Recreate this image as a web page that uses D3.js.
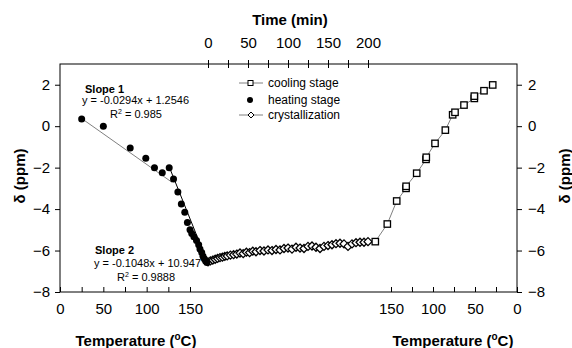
<!DOCTYPE html>
<meta charset="utf-8">
<html>
<head>
<script src="https://d3js.org/d3.v7.min.js"></script>
<style>
body { margin: 0; background: #fff; }
svg { font-family: "Liberation Sans", Arial, sans-serif; }
.tick text { font-size: 15px; fill: #000; }
.tick line { stroke: #000; }
.note { font-size: 11px; }
.legend { font-size: 12px; }
.title { font-size: 15px; font-weight: bold; }
</style>
</head>
<body>
<div id="chart"></div>
<script>

// heating stage: [temperature (C), delta (ppm)]
var heating = [[25,0.35],[50,0.0],[81,-1.05],[99,-1.55],[109,-2.0],[118,-2.25],[126,-2.0],
  [131,-2.55],[136,-3.18],[140,-3.75],[144,-4.15],[147,-4.65],[150,-5.0],[152,-5.18],
  [154.5,-5.33],[157.5,-5.52],[160,-5.72],[161.5,-5.92],[163.5,-6.1],[165,-6.28],
  [166.5,-6.4],[168,-6.5],[169.5,-6.58]];

// crystallization: [time (min), delta (ppm)]
var crystallization = [[0,-6.55],[3,-6.5],[6,-6.46],[9,-6.42],[12,-6.38],[15,-6.34],[18,-6.32],
  [21,-6.28],[24,-6.26],[28,-6.22],[32,-6.2],[36,-6.17],[40,-6.12],[44,-6.15],[48,-6.08],
  [52,-6.1],[56,-6.03],[60,-6.06],[65,-6.0],[70,-6.02],[75,-5.97],[80,-6.0],[85,-5.95],
  [90,-5.97],[95,-5.9],[100,-5.88],[105,-5.93],[110,-5.84],[115,-5.88],[120,-5.9],
  [125,-5.8],[130,-5.78],[135,-5.84],[140,-5.9],[145,-5.8],[150,-5.76],[155,-5.72],
  [160,-5.67],[165,-5.65],[170,-5.68],[175,-5.8],[180,-5.68],[185,-5.62],[190,-5.6],
  [195,-5.6],[200,-5.57]];

// cooling stage: [temperature (C), delta (ppm)]
var cooling = [[168.7,-5.57],[154.4,-4.72],[143.2,-3.61],[132.1,-3.0],[132,-2.9],[119.4,-2.27],
  [108.3,-1.6],[108,-1.5],[97.6,-0.83],[85.3,-0.19],[76.6,0.55],[73.8,0.67],[63.1,1.02],
  [50.8,1.34],[50.8,1.45],[39.3,1.71],[28.9,1.99]];

// trend lines (endpoints)
var slope1Line = [[25,0.37],[129,-2.7]];
var slope2Line = [[126,-1.96],[170,-6.55]];

var yTicks = [-8,-6,-4,-2,0,2];
var heatMinor = [0,25,50,75,100,125,150];
var heatLabels = [0,50,100,150];
var timeMinor = [0,25,50,75,100,125,150,175,200];
var timeLabels = [0,50,100,150,200];
var coolMinor = [150,125,100,75,50,25,0];
var coolLabels = [150,100,50,0];

var W = 572, H = 348;
var plotL = 60, plotR = 517, plotT = 64, plotB = 292;

var svg = d3.select("#chart").append("svg")
  .attr("width", W).attr("height", H);

var y = d3.scaleLinear().domain([-8, 3]).range([plotB, plotT]);
var xHeat = d3.scaleLinear().domain([0, 150]).range([plotL, 190]);
var xTime = d3.scaleLinear().domain([0, 200]).range([208, 368]);
var xCool = d3.scaleLinear().domain([150, 0]).range([391, plotR]);

// frame
svg.append("rect")
  .attr("x", plotL).attr("y", plotT)
  .attr("width", plotR - plotL).attr("height", plotB - plotT)
  .attr("fill", "none").attr("stroke", "#000");

function labelIf(list) {
  return function(d) { return list.indexOf(d) >= 0 ? d : ""; };
}

// y axes
svg.append("g").attr("transform", "translate(" + plotL + ",0)")
  .call(d3.axisLeft(y).tickValues(yTicks).tickSize(5).tickPadding(5))
  .call(g => g.select(".domain").remove());
svg.append("g").attr("transform", "translate(" + plotR + ",0)")
  .call(d3.axisRight(y).tickValues(yTicks).tickSize(5).tickPadding(6))
  .call(g => g.select(".domain").remove());

// bottom axes (ticks inside)
svg.append("g").attr("transform", "translate(0," + plotB + ")")
  .call(d3.axisBottom(xHeat).tickValues(heatMinor).tickFormat(labelIf(heatLabels))
    .tickSizeInner(-5).tickSizeOuter(0).tickPadding(11))
  .call(g => g.select(".domain").remove());
svg.append("g").attr("transform", "translate(0," + plotB + ")")
  .call(d3.axisBottom(xCool).tickValues(coolMinor).tickFormat(labelIf(coolLabels))
    .tickSizeInner(-5).tickSizeOuter(0).tickPadding(11))
  .call(g => g.select(".domain").remove());

// top time axis (ticks cross the frame)
svg.append("g").attr("transform", "translate(0," + plotT + ")")
  .call(d3.axisTop(xTime).tickValues(timeMinor).tickFormat(labelIf(timeLabels))
    .tickSizeInner(4).tickSizeOuter(0).tickPadding(12))
  .call(g => g.select(".domain").remove());
svg.append("g").attr("transform", "translate(0," + plotT + ")")
  .call(d3.axisTop(xTime).tickValues(timeMinor).tickFormat("")
    .tickSizeInner(-4).tickSizeOuter(0))
  .call(g => g.select(".domain").remove());

// axis titles
svg.append("text").attr("class", "title").attr("x", 290).attr("y", 25)
  .attr("text-anchor", "middle").text("Time (min)");

function tempTitle(cx) {
  var t = svg.append("text").attr("class", "title").attr("x", cx).attr("y", 346)
    .attr("text-anchor", "middle");
  t.append("tspan").text("Temperature (");
  t.append("tspan").attr("dy", -6).style("font-size", "10px").text("o");
  t.append("tspan").attr("dy", 6).text("C)");
}
tempTitle(136);
tempTitle(453);

svg.append("text").attr("class", "title")
  .attr("transform", "translate(25,176) rotate(-90)")
  .attr("text-anchor", "middle").text("δ (ppm)");
svg.append("text").attr("class", "title")
  .attr("transform", "translate(570,176) rotate(-90)")
  .attr("text-anchor", "middle").text("δ (ppm)");

// trend lines
var lineHeat = d3.line().x(d => xHeat(d[0])).y(d => y(d[1]));
svg.append("path").datum(slope1Line).attr("d", lineHeat)
  .attr("fill", "none").attr("stroke", "#808080").attr("stroke-width", 1);
svg.append("path").datum(slope2Line).attr("d", lineHeat)
  .attr("fill", "none").attr("stroke", "#000").attr("stroke-width", 1);

// crystallization line + diamonds
svg.append("path").datum(crystallization)
  .attr("d", d3.line().x(d => xTime(d[0])).y(d => y(d[1])))
  .attr("fill", "none").attr("stroke", "#808080");
svg.append("g").selectAll("path")
  .data(crystallization)
  .enter()
  .append("path")
    .attr("d", "M0,-4L4,0L0,4L-4,0Z")
    .attr("transform", d => "translate(" + xTime(d[0]) + "," + y(d[1]) + ")")
    .attr("fill", "#fff").attr("stroke", "#000").attr("stroke-width", 1.3);

// cooling line + squares
svg.append("path").datum(cooling)
  .attr("d", d3.line().x(d => xCool(d[0])).y(d => y(d[1])))
  .attr("fill", "none").attr("stroke", "#808080");
svg.append("g").selectAll("rect")
  .data(cooling)
  .enter()
  .append("rect")
    .attr("x", d => xCool(d[0]) - 3.2)
    .attr("y", d => y(d[1]) - 3.2)
    .attr("width", 6.4).attr("height", 6.4)
    .attr("fill", "#fff").attr("stroke", "#000").attr("stroke-width", 1.3);

// heating points
svg.append("g").selectAll("circle")
  .data(heating)
  .enter()
  .append("circle")
    .attr("cx", d => xHeat(d[0]))
    .attr("cy", d => y(d[1]))
    .attr("r", 3.5)
    .attr("fill", "#000");

// annotations
svg.append("text").attr("class", "note").attr("x", 85).attr("y", 93)
  .style("font-weight", "bold").text("Slope 1");
svg.append("text").attr("class", "note").attr("x", 82).attr("y", 104)
  .text("y = -0.0294x + 1.2546");
var r1 = svg.append("text").attr("class", "note").attr("x", 110).attr("y", 118);
r1.append("tspan").text("R");
r1.append("tspan").attr("dy", -4).style("font-size", "7px").text("2");
r1.append("tspan").attr("dy", 4).text(" = 0.985");

svg.append("text").attr("class", "note").attr("x", 95).attr("y", 254)
  .style("font-weight", "bold").text("Slope 2");
svg.append("text").attr("class", "note").attr("x", 94).attr("y", 267)
  .text("y = -0.1048x + 10.947");
var r2 = svg.append("text").attr("class", "note").attr("x", 117).attr("y", 281);
r2.append("tspan").text("R");
r2.append("tspan").attr("dy", -4).style("font-size", "7px").text("2");
r2.append("tspan").attr("dy", 4).text(" = 0.9888");

// legend
var lg = svg.append("g").attr("class", "legend");
lg.append("line").attr("x1", 239).attr("x2", 263).attr("y1", 83).attr("y2", 83)
  .attr("stroke", "#808080");
lg.append("rect").attr("x", 248).attr("y", 80.5).attr("width", 5).attr("height", 5)
  .attr("fill", "#fff").attr("stroke", "#000");
lg.append("text").attr("x", 268).attr("y", 87).text("cooling stage");
lg.append("circle").attr("cx", 250).attr("cy", 100).attr("r", 3).attr("fill", "#000");
lg.append("text").attr("x", 268).attr("y", 104).text("heating stage");
lg.append("line").attr("x1", 239).attr("x2", 263).attr("y1", 115).attr("y2", 115)
  .attr("stroke", "#808080");
lg.append("path").attr("d", "M251,112L254,115L251,118L248,115Z")
  .attr("fill", "#fff").attr("stroke", "#000");
lg.append("text").attr("x", 268).attr("y", 119).text("crystallization");

</script>
</body>
</html>
